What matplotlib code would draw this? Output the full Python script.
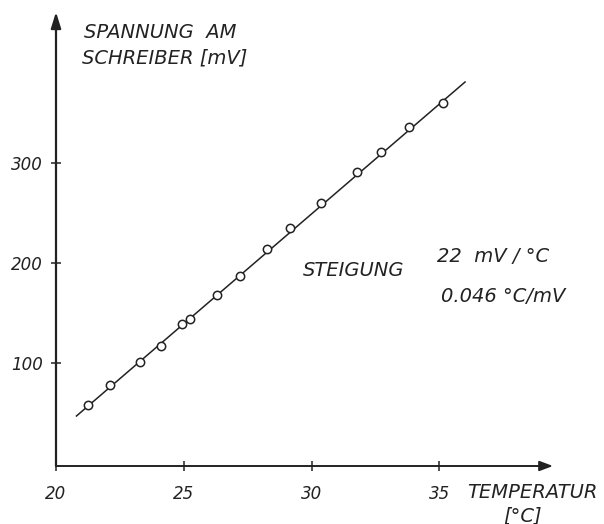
import matplotlib
matplotlib.use('Agg')
import matplotlib.pyplot as plt

# measured points (temperature in degC, recorder voltage in mV)
temp = [21.26, 22.12, 23.29, 24.10, 24.92, 25.23, 26.28, 27.18, 28.27,
        29.16, 30.37, 31.77, 32.70, 33.80, 35.12]
volt = [58, 78, 101, 117, 139, 144, 168, 187, 214, 235, 260, 291, 311, 336, 360]

# straight line drawn through the points
fit_temp = [20.8, 36.0]
fit_volt = [47, 381]

x_ticks = [20, 25, 30, 35]
y_ticks = [100, 200, 300]

plt.rcParams['font.family'] = ['DejaVu Sans']
fs = 12
fs_txt = 14

fig = plt.figure(figsize=(6.04, 5.24), dpi=100)
ax = fig.add_axes([56 / 604, 58 / 524, 497 / 604, 454 / 524])
ax.set_xlim(20.1, 39.44)
ax.set_ylim(-3, 451)

for s in ax.spines.values():
    s.set_visible(False)

# axes drawn as arrows
ax.annotate('', xy=(0, 1), xytext=(0, 0), xycoords='axes fraction',
            arrowprops=dict(arrowstyle='-|>,head_width=0.25,head_length=0.8',
                            color='#222222', lw=1.6,
                            mutation_scale=12, shrinkA=0, shrinkB=0))
ax.annotate('', xy=(1, 0), xytext=(0, 0), xycoords='axes fraction',
            arrowprops=dict(arrowstyle='-|>,head_width=0.3,head_length=0.8',
                            color='#222222', lw=1.4,
                            mutation_scale=10, shrinkA=0, shrinkB=0,
                            facecolor='white'))

ax.plot(fit_temp, fit_volt, color='#222222', lw=1.1, zorder=2)
ax.plot(temp, volt, linestyle='none', marker='o', markersize=6,
        markerfacecolor='white', markeredgecolor='#222222',
        markeredgewidth=1.1, zorder=3)

ax.set_xticks(x_ticks)
ax.set_yticks(y_ticks)
ax.tick_params(direction='inout', length=7, width=1.1, color='#222222',
               labelsize=fs, labelcolor='#222222')
ax.tick_params(axis='x', pad=10)
ax.tick_params(axis='y', pad=6)
for lab in ax.get_xticklabels() + ax.get_yticklabels():
    lab.set_style('italic')

txt = dict(fontsize=fs_txt, style='italic', color='#222222', va='center',
           ha='left', clip_on=False)
ax.text(21.1, 430, 'SPANNUNG  AM', **txt)
ax.text(21.03, 405, 'SCHREIBER [mV]', **txt)
ax.text(29.67, 193, 'STEIGUNG', **txt)
ax.text(34.92, 207, '22  mV / °C', **txt)
ax.text(35.04, 166, '0.046 °C/mV', **txt)
ax.text(36.09, -30, 'TEMPERATUR', **txt)
ax.text(37.49, -53, '[°C]', **txt)

plt.savefig('out.png', dpi=100)
plt.close()
